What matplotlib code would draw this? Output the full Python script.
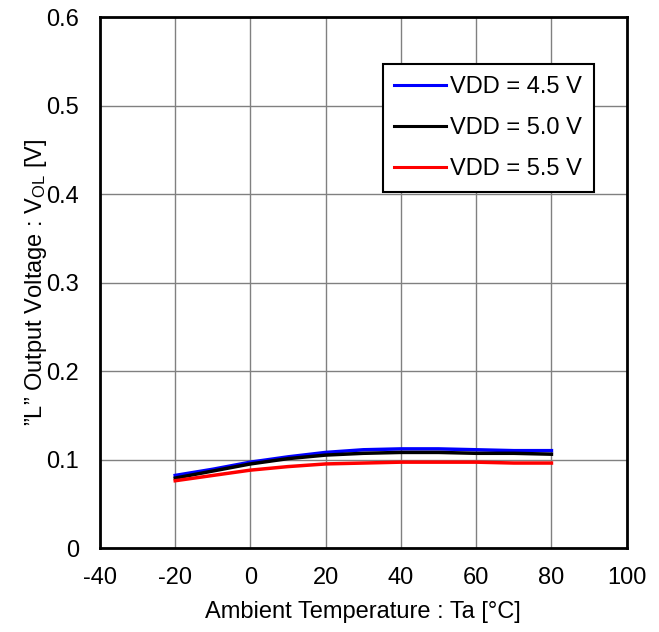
import matplotlib
matplotlib.use('Agg')
import matplotlib.pyplot as plt

plt.rcParams['font.family'] = ['Liberation Sans', 'DejaVu Sans']
plt.rcParams['mathtext.fontset'] = 'custom'
plt.rcParams['mathtext.rm'] = 'Liberation Sans'
plt.rcParams['mathtext.it'] = 'Liberation Sans'
plt.rcParams['axes.unicode_minus'] = False

# 周囲温度 [°C]
temp = [-20, -10, 0, 10, 20, 30, 40, 50, 60, 70, 80]

# VOL [V]
vol_45 = [0.082, 0.089, 0.097, 0.103, 0.108, 0.111, 0.112, 0.112, 0.111, 0.110, 0.110]
vol_50 = [0.079, 0.087, 0.095, 0.101, 0.105, 0.107, 0.108, 0.108, 0.107, 0.107, 0.106]
vol_55 = [0.076, 0.082, 0.088, 0.092, 0.095, 0.096, 0.097, 0.097, 0.097, 0.096, 0.096]

labels = ['VDD = 4.5 V', 'VDD = 5.0 V', 'VDD = 5.5 V']
colors = ['#0000ff', '#000000', '#ff0000']

fig = plt.figure(figsize=(6.59, 6.32), dpi=100)
ax = fig.add_axes([0.1517, 0.1329, 0.7993, 0.8402])

for v, lab, c in zip([vol_45, vol_50, vol_55], labels, colors):
    ax.plot(temp, v, color=c, linewidth=2.5, label=lab)

ax.set_xlim(-40, 100)
ax.set_ylim(0, 0.6)
ax.set_xticks(range(-40, 101, 20))
ax.set_yticks([0, 0.1, 0.2, 0.3, 0.4, 0.5, 0.6])
ax.set_yticklabels(['0', '0.1', '0.2', '0.3', '0.4', '0.5', '0.6'])
ax.grid(True, color='#808080', linewidth=1.0)
ax.tick_params(axis='x', length=0, labelsize=17, pad=14)
ax.tick_params(axis='y', length=0, labelsize=17, pad=15)
for s in ax.spines.values():
    s.set_linewidth(2)
    s.set_color('black')

ax.set_xlabel('Ambient Temperature : Ta [°C]', fontsize=17, labelpad=8)
ax.set_ylabel('”L” Output Voltage : V$_{\\mathrm{OL}}$ [V]', fontsize=17, labelpad=-2)

leg = ax.legend(loc='upper right', bbox_to_anchor=(0.937, 0.911), borderaxespad=0,
                fontsize=17, frameon=True, fancybox=False, edgecolor='black', framealpha=1,
                handlelength=2.2, handletextpad=0.15, labelspacing=0.8, borderpad=0.5)
leg.get_frame().set_linewidth(1.5)
for h in leg.get_lines():
    h.set_linewidth(2.2)

fig.savefig('out.png', dpi=100)
